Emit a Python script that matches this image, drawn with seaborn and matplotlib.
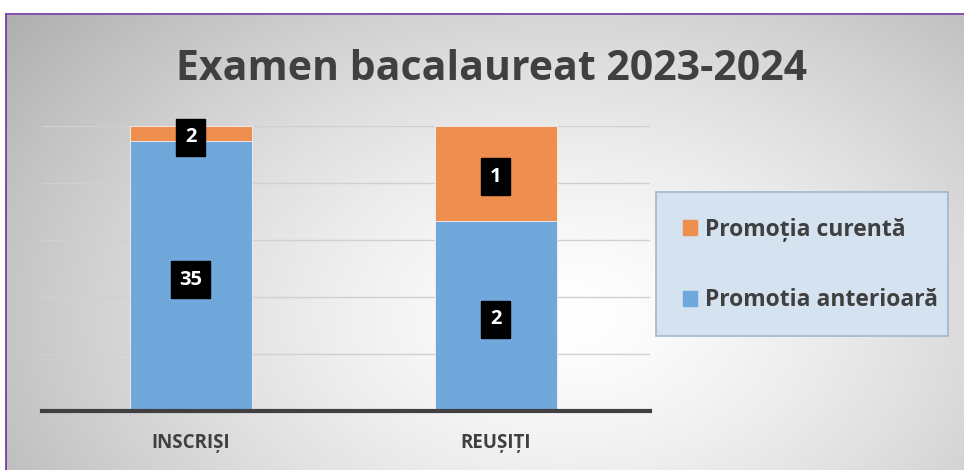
import numpy as np
import pandas as pd
import matplotlib
matplotlib.use("Agg")
import matplotlib.pyplot as plt
from matplotlib.patches import Rectangle, Patch
from matplotlib.lines import Line2D
import seaborn as sns

categories = ["INSCRIȘI", "REUȘIȚI"]
promotia_curenta = [2, 1]
promotia_anterioara = [35, 2]
series_names = ["Promoția curentă", "Promotia anterioară"]
title = "Examen bacalaureat 2023-2024"

ORANGE = "#EF8F4F"
BLUE = "#70A8DB"
TXT = "#404040"

sns.set_theme(style="white")
plt.rcParams["font.family"] = ["Open Sans", "DejaVu Sans"]

W, H = 964, 470
fig = plt.figure(figsize=(W / 100, H / 100), dpi=100)
fig.patch.set_facecolor("white")

# background radial gradient
bg = fig.add_axes([6 / W, 0, (W - 6) / W, (H - 15) / H], zorder=-10)
bw, bh = W - 6, H - 15
yy, xx = np.mgrid[0:bh, 0:bw]
cx, cy = 560, 300
r = np.sqrt(((xx - cx) / 620) ** 2 + ((yy - cy) / 420) ** 2)
val = 1.0 - 0.26 * np.clip(r, 0, 1.2) ** 1.4
img = np.dstack([val, val, val])
bg.imshow(img, aspect="auto", interpolation="bilinear")
bg.axis("off")

# purple border (top & left)
fig.add_artist(Line2D([5.5 / W, 5.5 / W], [0, 1 - 14 / H], transform=fig.transFigure, color="#7030A0", lw=1.2))
fig.add_artist(Line2D([5.5 / W, 1], [1 - 14 / H, 1 - 14 / H], transform=fig.transFigure, color="#7030A0", lw=1.2))

ax = fig.add_axes([42 / W, 59 / H, 608 / W, 285 / H])
ax.patch.set_alpha(0)

df = pd.DataFrame({"cat": categories, "cur": promotia_curenta, "ant": promotia_anterioara})
df["total"] = df["cur"] + df["ant"]
df["ant_share"] = df["ant"] / df["total"]
df["tot_share"] = 1.0

sns.barplot(data=df, x="cat", y="tot_share", color=ORANGE, width=0.4, ax=ax,
            saturation=1, edgecolor="#f3f3f3", linewidth=0.6, zorder=3)
sns.barplot(data=df, x="cat", y="ant_share", color=BLUE, width=0.4, ax=ax,
            saturation=1, edgecolor="#f3f3f3", linewidth=0.6, zorder=3)

ax.set_ylim(0, 1)
ax.set_xlim(-148.5 / 305, 459.5 / 305)
ax.set_yticks([0.2, 0.4, 0.6, 0.8, 1.0])
ax.set_yticklabels([])
ax.tick_params(axis="y", length=0)
ax.grid(axis="y", color="#d0d0d0", lw=1, zorder=0)
for s in ["top", "right", "left"]:
    ax.spines[s].set_visible(False)
ax.spines["bottom"].set_color(TXT)
ax.spines["bottom"].set_linewidth(3)
ax.spines["bottom"].set_zorder(5)
ax.set_xlabel("")
ax.set_ylabel("")
ax.tick_params(axis="x", length=0, pad=16)
for lab in ax.get_xticklabels():
    lab.set_fontweight("bold")
    lab.set_fontsize(13.5)
    lab.set_color(TXT)

box = dict(boxstyle="square,pad=0.42", fc="black", ec="black")
for i, row in df.iterrows():
    a = row["ant_share"]
    ax.text(i, a + (1 - a) / 2 - 0.012, str(row["cur"]), ha="center", va="center",
            color="white", fontweight="bold", fontsize=14.5, bbox=box, zorder=6)
    ax.text(i, a / 2 - 0.012, str(row["ant"]), ha="center", va="center",
            color="white", fontweight="bold", fontsize=14.5, bbox=box, zorder=6)

fig.text(492 / W, 1 - 70 / H, title, ha="center", va="center", fontsize=29.5,
         fontweight="bold", color=TXT)

# legend box
fig.add_artist(Rectangle((656 / W, 1 - 336 / H), 292 / W, 144 / H, transform=fig.transFigure,
                         fc="#d5e3f0", ec="#a3b6cc", lw=1.2, zorder=1))
handles = [Patch(color=ORANGE), Patch(color=BLUE)]
leg = fig.legend(handles, series_names, loc="center left",
                 bbox_to_anchor=(662 / W, 1 - 265 / H), frameon=False,
                 prop=dict(weight="bold", size=16.5), labelcolor=TXT,
                 handlelength=0.62, handleheight=0.62, handletextpad=0.35,
                 labelspacing=2.05)

fig.savefig("out.png", dpi=100)
